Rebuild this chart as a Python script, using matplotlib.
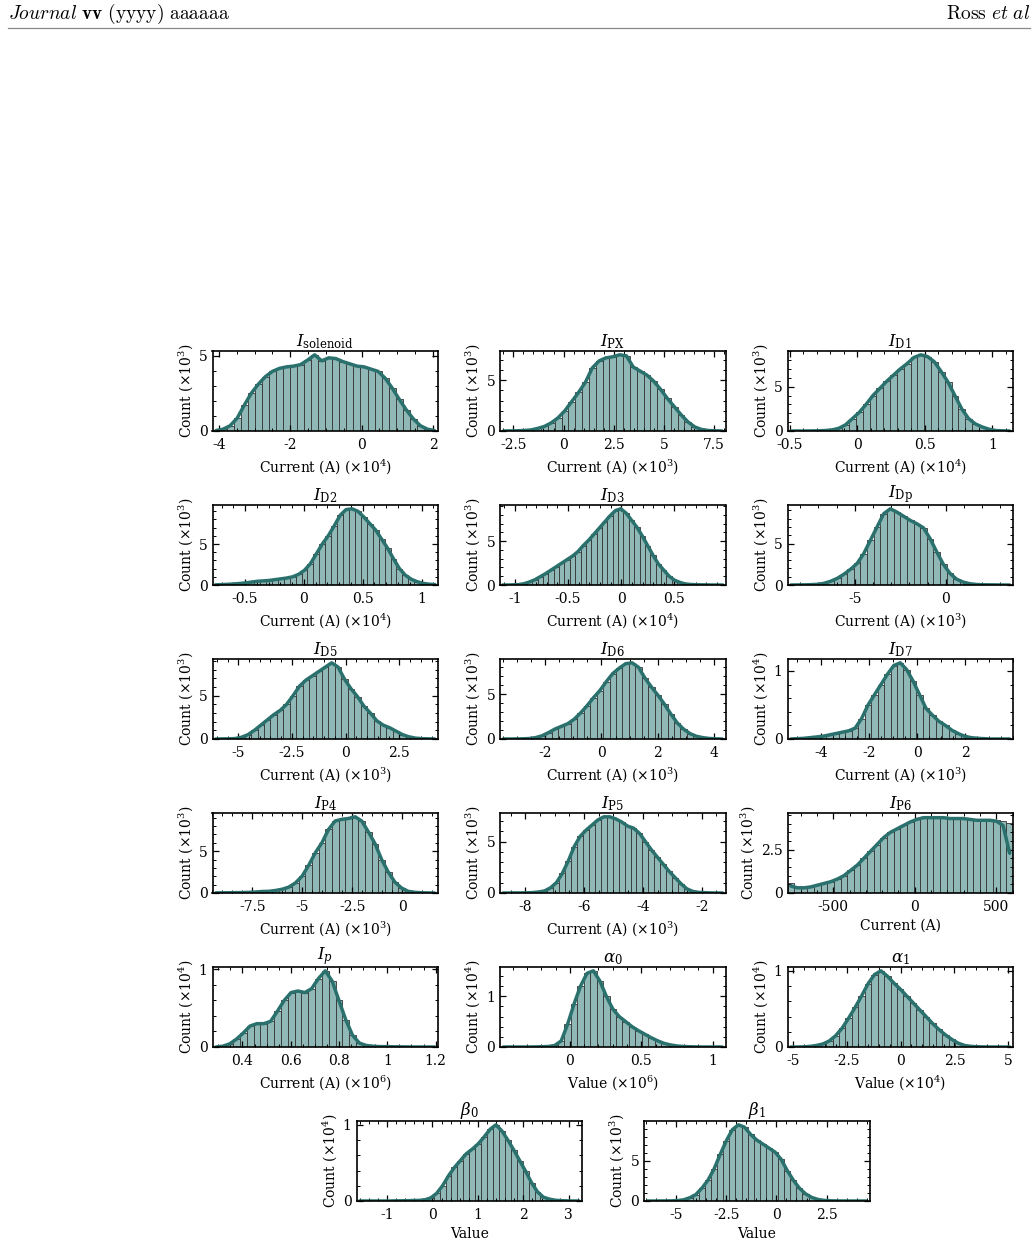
import numpy as np
import matplotlib
matplotlib.use("Agg")
import matplotlib.pyplot as plt
from matplotlib.ticker import AutoMinorLocator, FormatStrFormatter
from matplotlib.lines import Line2D

plt.rcParams.update({
    "font.family": "DejaVu Serif",
    "mathtext.fontset": "dejavuserif",
    "axes.unicode_minus": False,
    "xtick.direction": "in",
    "ytick.direction": "in",
    "xtick.top": True,
    "ytick.right": True,
    "xtick.labelsize": 10,
    "ytick.labelsize": 10,
    "axes.labelsize": 10,
    "axes.titlesize": 12,
    "axes.linewidth": 1.2,
})

FACE = "#8fb8b6"
EDGE = "#333333"
LINE = "#2a716e"

# x range of the bins (in plotted units) and bar heights (in plotted units)
solenoid_range = (-4.18, 2.14)
solenoid_counts = [0.03, 0.12, 0.35, 0.85, 1.7, 2.5, 3.1, 3.6, 3.95, 4.15, 4.25, 4.3, 4.4, 4.7, 5.05, 4.65,
                   4.85, 4.8, 4.6, 4.45, 4.3, 4.25, 4.1, 3.95, 3.5, 2.85, 2.1, 1.4, 0.8, 0.35, 0.12, 0.03]

px_range = (-3.17, 8.08)
px_counts = [0, 0.01, 0.02, 0.05, 0.1, 0.25, 0.45, 0.8, 1.3, 2.0, 2.9, 3.8, 4.8, 6.2, 6.9, 7.2, 7.3,
             7.5, 7.4, 6.3, 5.9, 5.5, 4.9, 4.1, 3.2, 2.4, 1.6, 0.9, 0.4, 0.15, 0.05, 0.02, 0.0]

d1_range = (-0.517, 1.153)
d1_counts = [0, 0, 0, 0.01, 0.02, 0.05, 0.12, 0.3, 0.7, 1.4, 2.1, 3.0, 4.0, 4.8, 5.6, 6.3, 7.0, 7.6,
             8.3, 8.6, 8.4, 7.8, 6.7, 5.5, 4.0, 2.5, 1.4, 0.8, 0.45, 0.2, 0.05, 0.02, 0]

d2_range = (-0.777, 1.14)
d2_counts = [0.02, 0.05, 0.08, 0.12, 0.18, 0.25, 0.35, 0.45, 0.5, 0.55, 0.65, 0.75, 0.85, 1.0, 1.3,
             1.8, 2.6, 3.8, 5.0, 6.0, 7.2, 8.5, 9.2, 9.3, 9.0, 8.3, 7.5, 6.7, 5.6, 4.5, 3.2, 2.0, 1.2,
             0.7, 0.4, 0.2, 0.1, 0.05]

d3_range = (-1.14, 0.98)
d3_counts = [0, 0, 0.02, 0.05, 0.15, 0.35, 0.6, 0.95, 1.3, 1.7, 2.1, 2.5, 2.9, 3.3, 3.8, 4.5, 5.1, 5.8,
             6.5, 7.2, 7.9, 8.5, 8.7, 8.2, 7.4, 6.6, 5.6, 4.5, 3.4, 2.4, 1.7, 1.0, 0.55, 0.3, 0.12,
             0.06, 0.03, 0.02, 0.01, 0, 0, 0]

dp_range = (-8.7, 3.7)
dp_counts = [0, 0.01, 0.02, 0.04, 0.08, 0.2, 0.45, 0.8, 1.3, 1.9, 2.6, 3.8, 5.4, 7.0, 8.6, 9.2, 8.8,
             8.3, 7.8, 7.4, 6.9, 5.6, 4.0, 2.5, 1.4, 0.7, 0.35, 0.15, 0.06, 0.03, 0.02, 0.01, 0, 0]

d5_range = (-6.2, 4.3)
d5_counts = [0, 0.01, 0.02, 0.05, 0.2, 0.5, 1.0, 1.6, 2.2, 2.8, 3.3, 4.0, 5.0, 6.1, 6.8, 7.3, 7.8, 8.3,
             8.8, 8.3, 6.9, 5.8, 4.9, 3.8, 3.0, 2.1, 1.6, 1.3, 0.9, 0.5, 0.25, 0.1, 0.04, 0.02, 0]

d6_range = (-3.6, 4.4)
d6_counts = [0, 0, 0.01, 0.02, 0.05, 0.15, 0.35, 0.7, 1.1, 1.4, 1.7, 2.2, 2.9, 3.7, 4.6, 5.4, 6.4, 7.3,
             7.9, 8.4, 8.5, 8.0, 6.8, 5.8, 4.9, 3.9, 2.8, 1.8, 1.1, 0.6, 0.3, 0.15, 0.06, 0.02, 0]

d7_range = (-5.4, 4.0)
d7_counts = [0, 0.005, 0.01, 0.02, 0.03, 0.04, 0.06, 0.08, 0.1, 0.12, 0.16, 0.3, 0.5, 0.65, 0.8, 0.95,
             1.08, 1.12, 1.02, 0.85, 0.65, 0.45, 0.35, 0.26, 0.2, 0.13, 0.08, 0.04, 0.02, 0.01, 0.005,
             0, 0, 0, 0]

p4_range = (-9.5, 1.8)
p4_counts = [0.02, 0.02, 0.03, 0.04, 0.05, 0.08, 0.12, 0.18, 0.2, 0.3, 0.45, 0.7, 1.2, 2.0, 3.3, 4.8,
             6.0, 7.6, 8.6, 8.8, 8.9, 9.1, 8.6, 7.3, 5.9, 4.0, 2.5, 1.3, 0.6, 0.2, 0.08, 0.03, 0.01, 0]

p5_range = (-8.86, -1.19)
p5_counts = [0, 0, 0.01, 0.01, 0.02, 0.04, 0.1, 0.2, 0.5, 1.0, 1.9, 3.1, 4.5, 5.5, 6.1, 6.6, 7.1, 7.4,
             7.4, 7.2, 6.9, 6.5, 6.3, 5.8, 5.0, 4.2, 3.5, 2.8, 2.1, 1.5, 0.9, 0.4, 0.15, 0.06, 0.03,
             0.01, 0, 0]

p6_range = (-780, 602)
p6_counts = [0.55, 0.3, 0.3, 0.35, 0.45, 0.55, 0.65, 0.8, 1.0, 1.3, 1.6, 2.0, 2.4, 2.8, 3.2, 3.5, 3.7,
             3.9, 4.1, 4.3, 4.4, 4.35, 4.35, 4.4, 4.35, 4.3, 4.35, 4.25, 4.2, 4.2, 4.2, 4.2, 4.15, 4.05]
p6_kde = [0.4, 0.3, 0.3, 0.35, 0.45, 0.55, 0.65, 0.8, 1.0, 1.3, 1.6, 2.0, 2.4, 2.8, 3.2, 3.5, 3.7,
          3.9, 4.1, 4.25, 4.35, 4.35, 4.35, 4.35, 4.3, 4.3, 4.3, 4.25, 4.2, 4.2, 4.2, 4.15, 3.9, 2.3]

ip_range = (0.276, 1.21)
ip_counts = [0, 0.01, 0.04, 0.1, 0.18, 0.27, 0.3, 0.3, 0.33, 0.46, 0.6, 0.7, 0.72, 0.7, 0.75, 0.88,
             0.98, 0.85, 0.6, 0.35, 0.15, 0.05, 0.02, 0.01, 0.005, 0.005, 0.003, 0.002, 0.001, 0, 0,
             0, 0]

a0_range = (-0.49, 1.09)
a0_counts = [0, 0, 0, 0, 0, 0.002, 0.005, 0.01, 0.03, 0.12, 0.45, 0.85, 1.2, 1.45, 1.5, 1.3, 1.0, 0.75,
             0.6, 0.5, 0.4, 0.32, 0.25, 0.18, 0.12, 0.07, 0.04, 0.02, 0.01, 0.005, 0.002, 0, 0, 0, 0]

a1_range = (-5.26, 5.22)
a1_counts = [0, 0, 0.002, 0.008, 0.02, 0.04, 0.08, 0.15, 0.25, 0.38, 0.52, 0.67, 0.83, 0.95, 1.0,
             0.93, 0.84, 0.76, 0.67, 0.58, 0.49, 0.4, 0.31, 0.23, 0.16, 0.1, 0.05, 0.02, 0.008, 0.003,
             0.001, 0, 0, 0, 0]

b0_range = (-1.67, 3.29)
b0_counts = [0, 0, 0, 0, 0, 0, 0.002, 0.003, 0.004, 0.006, 0.008, 0.015, 0.04, 0.1, 0.2, 0.33, 0.44,
             0.53, 0.62, 0.68, 0.75, 0.84, 0.94, 1.0, 0.92, 0.8, 0.67, 0.53, 0.39, 0.24, 0.12, 0.05,
             0.025, 0.01, 0.005, 0.002, 0, 0]

b1_range = (-6.6, 4.64)
b1_counts = [0, 0, 0.005, 0.01, 0.02, 0.05, 0.15, 0.4, 0.8, 1.6, 2.6, 4.0, 5.8, 7.5, 8.9, 9.5, 9.2,
             8.3, 7.6, 7.1, 6.6, 6.1, 5.2, 3.8, 2.6, 1.6, 0.9, 0.45, 0.2, 0.08, 0.03, 0.01, 0.005, 0,
             0, 0, 0]

# titles, axis labels and ticks
cur = "Current (A) (×10$^{%d}$)"
val = "Value (×10$^{%d}$)"
cnt = "Count (×10$^{%d}$)"

panels = [
    (r"$I_{\mathrm{solenoid}}$", solenoid_range, solenoid_counts, None, cur % 4, cnt % 3, [-4, -2, 0, 2], [0, 5]),
    (r"$I_{\mathrm{PX}}$", px_range, px_counts, None, cur % 3, cnt % 3, [-2.5, 0, 2.5, 5, 7.5], [0, 5]),
    (r"$I_{\mathrm{D1}}$", d1_range, d1_counts, None, cur % 4, cnt % 3, [-0.5, 0, 0.5, 1], [0, 5]),
    (r"$I_{\mathrm{D2}}$", d2_range, d2_counts, None, cur % 4, cnt % 3, [-0.5, 0, 0.5, 1], [0, 5]),
    (r"$I_{\mathrm{D3}}$", d3_range, d3_counts, None, cur % 4, cnt % 3, [-1, -0.5, 0, 0.5], [0, 5]),
    (r"$I_{\mathrm{Dp}}$", dp_range, dp_counts, None, cur % 3, cnt % 3, [-5, 0], [0, 5]),
    (r"$I_{\mathrm{D5}}$", d5_range, d5_counts, None, cur % 3, cnt % 3, [-5, -2.5, 0, 2.5], [0, 5]),
    (r"$I_{\mathrm{D6}}$", d6_range, d6_counts, None, cur % 3, cnt % 3, [-2, 0, 2, 4], [0, 5]),
    (r"$I_{\mathrm{D7}}$", d7_range, d7_counts, None, cur % 3, cnt % 4, [-4, -2, 0, 2], [0, 1]),
    (r"$I_{\mathrm{P4}}$", p4_range, p4_counts, None, cur % 3, cnt % 3, [-7.5, -5, -2.5, 0], [0, 5]),
    (r"$I_{\mathrm{P5}}$", p5_range, p5_counts, None, cur % 3, cnt % 3, [-8, -6, -4, -2], [0, 5]),
    (r"$I_{\mathrm{P6}}$", p6_range, p6_counts, p6_kde, "Current (A)", cnt % 3, [-500, 0, 500], [0, 2.5]),
    (r"$I_p$", ip_range, ip_counts, None, cur % 6, cnt % 4, [0.4, 0.6, 0.8, 1, 1.2], [0, 1]),
    (r"$\alpha_0$", a0_range, a0_counts, None, val % 6, cnt % 4, [0, 0.5, 1], [0, 1]),
    (r"$\alpha_1$", a1_range, a1_counts, None, val % 4, cnt % 4, [-5, -2.5, 0, 2.5, 5], [0, 1]),
    (r"$\beta_0$", b0_range, b0_counts, None, "Value", cnt % 4, [-1, 0, 1, 2, 3], [0, 1]),
    (r"$\beta_1$", b1_range, b1_counts, None, "Value", cnt % 3, [-5, -2.5, 0, 2.5], [0, 5]),
]

W, H = 1035, 1245
fig = plt.figure(figsize=(W / 100, H / 100), dpi=100)

# header
fig.text(8 / W, 1 - 14 / H, r"$\mathit{Journal}\ \mathbf{vv}\ \mathrm{(yyyy)\ aaaaaa}$",
         math_fontfamily="cm", fontsize=14, ha="left", va="center")
fig.text(1 - 5 / W, 1 - 14 / H, r"$\mathrm{Ross}\ \mathit{et\ al}$",
         math_fontfamily="cm", fontsize=14, ha="right", va="center")
fig.add_artist(Line2D([8 / W, 1 - 5 / W], [1 - 28 / H, 1 - 28 / H], transform=fig.transFigure,
                      color="#888888", lw=0.9))

col_left = [212.5, 500, 787.5]
row_top = [351, 505, 659, 813, 967, 1121]
aw, ah = 225.5, 80


def draw_panel(ax, title, lims, counts, kde, xlabel, ylabel, xticks, yticks):
    edges = np.linspace(lims[0], lims[1], len(counts) + 1)
    centers = 0.5 * (edges[:-1] + edges[1:])
    ax.bar(edges[:-1], counts, width=np.diff(edges), align="edge", color=FACE,
           edgecolor=EDGE, linewidth=0.6)
    line = counts if kde is None else kde
    ax.plot(centers, line, color=LINE, lw=2.5, solid_capstyle="round")
    ax.set_xlim(lims)
    ax.set_xticks(xticks)
    ax.set_yticks(yticks)
    ax.xaxis.set_major_formatter(FormatStrFormatter("%g"))
    ax.yaxis.set_major_formatter(FormatStrFormatter("%g"))
    ax.xaxis.set_minor_locator(AutoMinorLocator())
    ax.yaxis.set_minor_locator(AutoMinorLocator(5))
    ax.tick_params(which="major", length=4, width=0.9)
    ax.tick_params(axis="x", which="major", pad=5)
    ax.tick_params(axis="y", which="major", pad=3.5)
    ax.tick_params(which="minor", length=2, width=0.7)
    ax.set_xlabel(xlabel, labelpad=3.5)
    ax.set_ylabel(ylabel, labelpad=3)
    ax.set_title(title, pad=2)


for i, p in enumerate(panels):
    if i < 15:
        left = col_left[i % 3]
        top = row_top[i // 3]
    else:
        left = [356.5, 644][i - 15]
        top = row_top[5]
    ax = fig.add_axes([left / W, 1 - (top + ah) / H, aw / W, ah / H])
    draw_panel(ax, *p)

fig.savefig("out.png", dpi=100)
